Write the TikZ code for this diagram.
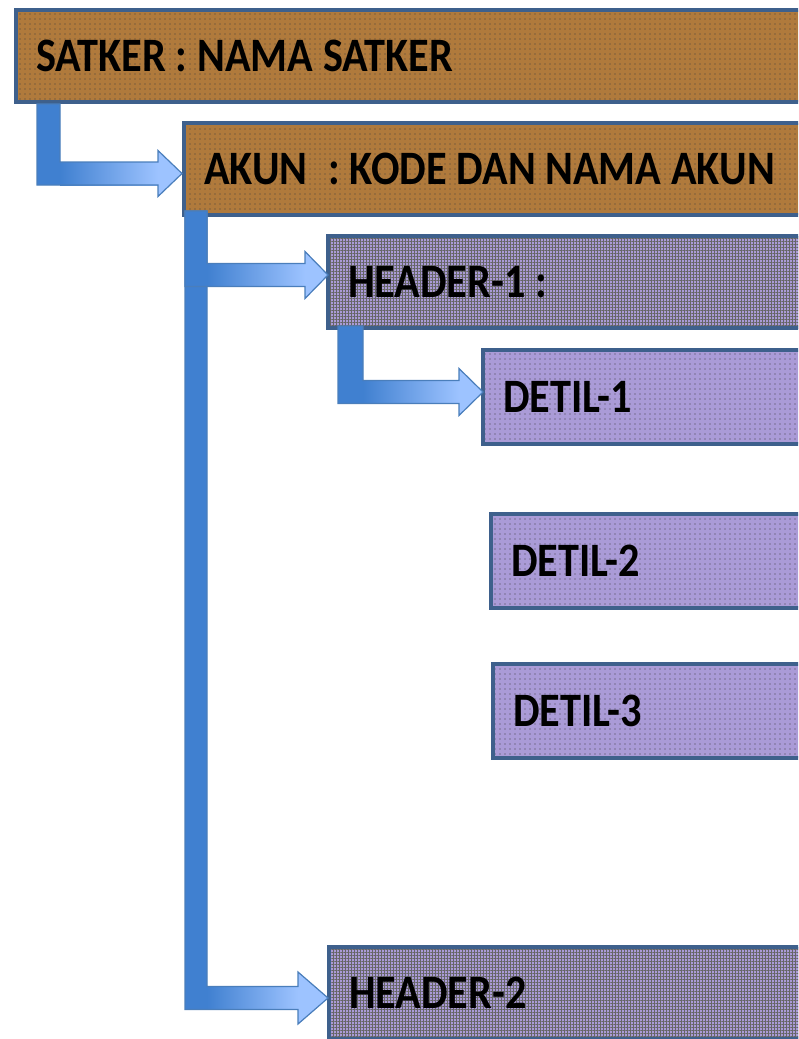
\documentclass[tikz,border=0pt]{standalone}
\usepackage{fontspec}
\newfontfamily\boxfont{Carlito}[FakeStretch=0.88]
\usetikzlibrary{calc,patterns.meta}
\definecolor{bordc}{RGB}{62,96,140}
\definecolor{brownc}{RGB}{176,122,60}
\definecolor{lavc}{RGB}{170,155,215}
\definecolor{ardark}{RGB}{64,128,208}
\definecolor{arlight}{RGB}{157,195,255}
\definecolor{arline}{RGB}{74,126,187}
\newcommand\tightsp{\spaceskip=9.75pt plus 1pt minus 1pt\relax}
\newcommand\blockarrow[5]{% #1 bar top-left, #2 tip, #3 bar width, #4 head half height, #5 head length
  \coordinate (bl) at (#1);
  \coordinate (br) at ($(#1)+(#3,0)$);
  \coordinate (tp) at (#2);
  \coordinate (st) at ($(#2)+(0,-11.5)$);
  \coordinate (sb) at ($(#2)+(0,11.5)$);
  \coordinate (ht) at ($(#2)+(-#5,-#4)$);
  \coordinate (hb) at ($(#2)+(-#5,#4)$);
  \fill[ardark] (bl) -- (br) -- (br |- st) -- (ht |- st) -- (ht) -- (tp) -- (hb) -- (hb |- sb) -- (bl |- sb) -- cycle;
  \shade[left color=ardark, right color=arlight] (br |- st) rectangle (hb |- sb);
  \fill[arlight] (ht) -- (tp) -- (hb) -- cycle;
  \draw[arline, line width=1.2pt, line join=miter] (bl) -- (br) -- (br |- st) -- (ht |- st) -- (ht) -- (tp) -- (hb) -- (hb |- sb) -- (bl |- sb) -- cycle;
}
\tikzset{
  box/.style={draw=bordc, line width=4pt, anchor=north west, minimum width=900pt,
    minimum height=92pt, inner xsep=20pt, inner ysep=0pt, text width=860pt, align=left,
    text height=31pt, text depth=0pt,
    font=\boxfont\bfseries\fontsize{48pt}{50pt}\selectfont, execute at begin node=\tightsp},
  brownbox/.style={box, preaction={fill=brownc},
    preaction={pattern={Dots[distance=5pt, radius=0.55pt]}, pattern color=black!75}},
  headbox/.style={box, preaction={fill=lavc},
    preaction={pattern={Lines[angle=0, distance=3pt, line width=0.7pt]}, pattern color=black!60},
    preaction={pattern={Lines[angle=90, distance=3pt, line width=0.7pt]}, pattern color=black!60}},
  detbox/.style={box, minimum height=94pt, preaction={fill=lavc},
    preaction={pattern={Dots[distance=5pt, radius=0.55pt]}, pattern color=black!75}}
}
\begin{document}
\begin{tikzpicture}[x=1pt, y=-1pt]
\useasboundingbox (0,0) rectangle (798,1039);
\clip (0,0) rectangle (798,1039);
\fill[white] (0,0) rectangle (798,1039);

\node[brownbox] (satker) at (14,8) {SATKER : NAMA SATKER};
\node[brownbox] (akun) at (182,121) {AKUN\hspace{21pt}: KODE DAN NAMA AKUN};
\node[headbox] (head1) at (326,234) {HEADER-1 :};
\node[detbox] (det1) at (481,348) {DETIL-1};
\node[detbox] (det2) at (489,512) {DETIL-2};
\node[detbox] (det3) at (491,662) {DETIL-3};
\node[headbox] (head2) at (327,945) {HEADER-2};

\coordinate (s1) at ($(satker.south west)+(23,0)$);
\coordinate (t1) at ($(akun.west)+(0,4.5)$);
\coordinate (s2) at ($(akun.south west)+(3,-6)$);
\coordinate (t2) at ($(head1.west)+(2,-7)$);
\coordinate (t4) at ($(head2.west)+(1,5)$);
\coordinate (s3) at ($(head1.south west)+(12,-4)$);
\coordinate (t3) at ($(det1.west)+(2,-5)$);

\blockarrow{s1}{t1}{23}{23}{24}
\blockarrow{s2}{t4}{22}{26}{30}
\blockarrow{s2}{t2}{22}{23.5}{23}
\blockarrow{s3}{t3}{25}{23.5}{24}
\end{tikzpicture}
\end{document}
